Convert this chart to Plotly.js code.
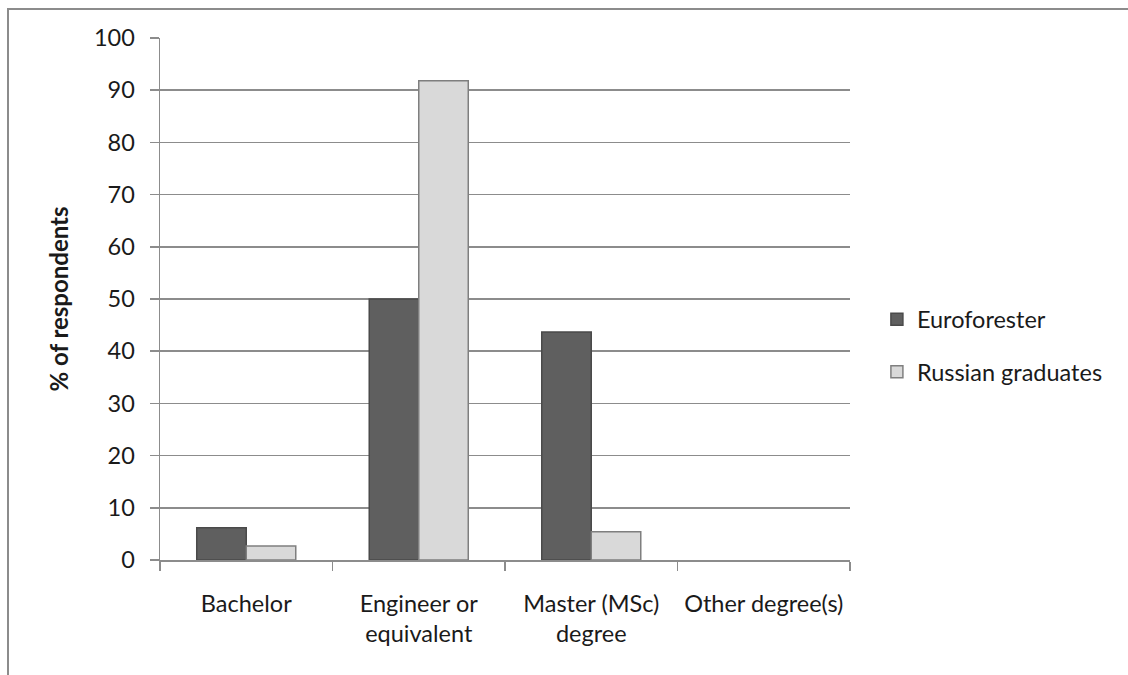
<!DOCTYPE html>
<html>
<head>
<meta charset="utf-8">
<script src="https://cdn.plot.ly/plotly-3.0.1.min.js"></script>
<style>
  html, body { margin: 0; padding: 0; background: #ffffff; overflow: hidden; }
  #frame { position: absolute; left: 7px; top: 8px; width: 1200px; height: 700px;
           border: 2px solid #8c8c8c; box-sizing: border-box; }
  #chart { position: absolute; left: 0; top: 0; width: 1128px; height: 675px; }
</style>
</head>
<body>
<div id="frame"></div>
<div id="chart"></div>
<script>
// Degree held by respondents, per group (% of respondents)
const categories = ["Bachelor", "Engineer or<br>equivalent", "Master (MSc)<br>degree", "Other degree(s)"];
const euroforester = [6.2, 50, 43.7, 0];
const russianGraduates = [2.7, 91.8, 5.4, 0];
const seriesNames = ["Euroforester", "Russian graduates"];
const yTicks = [0, 10, 20, 30, 40, 50, 60, 70, 80, 90, 100];

const font = "Lato, 'Open Sans', sans-serif";
const textColor = "#1a1a1a";
const axisGray = "#8c8c8c";

// empty bars get no outline so nothing shows on the baseline
const outline = vals => vals.map(v => (v > 0 ? 1.5 : 0));

const traces = [
  {
    type: "bar", name: seriesNames[0], legendgroup: "a",
    x: categories, y: euroforester,
    marker: { color: "#5f5f5f", line: { color: "#4a4a4a", width: outline(euroforester) } },
    hoverinfo: "x+y"
  },
  {
    type: "bar", name: seriesNames[1], legendgroup: "b",
    x: categories, y: russianGraduates,
    marker: { color: "#d9d9d9", line: { color: "#7f7f7f", width: outline(russianGraduates) } },
    hoverinfo: "x+y"
  }
];

const layout = {
  width: 1128, height: 675,
  margin: { l: 160, r: 278, t: 38, b: 115 },
  paper_bgcolor: "rgba(0,0,0,0)",
  plot_bgcolor: "rgba(0,0,0,0)",
  font: { family: font, size: 23.5, color: textColor },
  barmode: "group",
  bargap: 0.426,
  bargroupgap: 0,
  showlegend: true,
  legend: {
    x: 1.039, xanchor: "left", y: 0.41, yanchor: "middle",
    traceorder: "grouped", tracegroupgap: 19,
    font: { family: font, size: 23.5, color: textColor },
    itemwidth: 30, bgcolor: "rgba(0,0,0,0)"
  },
  xaxis: {
    type: "category",
    tickson: "boundaries",
    ticks: "outside", ticklen: 9, tickcolor: axisGray, tickwidth: 1.5,
    ticklabelstandoff: 22,
    showline: true, linecolor: axisGray, linewidth: 1.5,
    showgrid: false, zeroline: false,
    tickfont: { family: font, size: 23.5, color: textColor },
    automargin: false
  },
  yaxis: {
    range: [0, 100],
    tickvals: yTicks,
    ticktext: yTicks.map(String),
    ticks: "outside", ticklen: 9, tickcolor: axisGray, tickwidth: 1.5,
    ticklabelstandoff: 10,
    showline: true, linecolor: axisGray, linewidth: 1.5,
    showgrid: true, gridcolor: axisGray, gridwidth: 1.5,
    zeroline: false,
    tickfont: { family: font, size: 23.5, color: textColor },
    title: { text: "<b>% of respondents</b>", standoff: 18,
             font: { family: font, size: 24, color: textColor } },
    automargin: false
  }
};

Plotly.newPlot("chart", traces, layout, { displayModeBar: false, staticPlot: true });
</script>
</body>
</html>
